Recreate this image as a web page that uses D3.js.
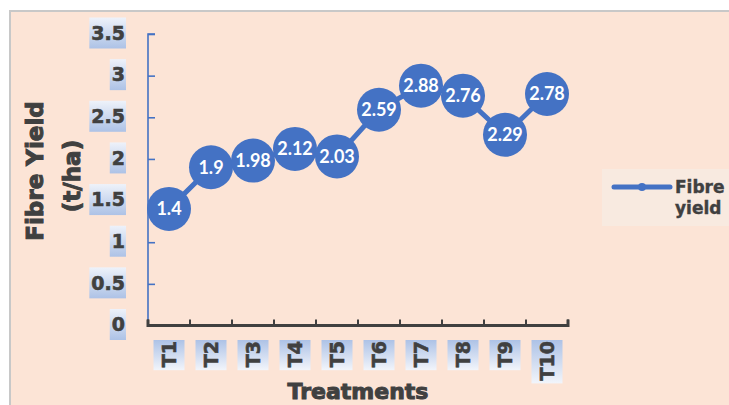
<!DOCTYPE html>
<html>
<head>
<meta charset="utf-8">
<script src="https://cdn.jsdelivr.net/npm/d3@7"></script>
<style>
  html, body { margin: 0; padding: 0; background: #ffffff; }
  svg { display: block; }
</style>
</head>
<body>
<svg id="chart" width="729" height="405"></svg>
<script>
// Fibre yield (t/ha) per treatment
const treatments = ["T1", "T2", "T3", "T4", "T5", "T6", "T7", "T8", "T9", "T10"];
const fibreYield = [1.4, 1.9, 1.98, 2.12, 2.03, 2.59, 2.88, 2.76, 2.29, 2.78];
const yTicks = [0, 0.5, 1, 1.5, 2, 2.5, 3, 3.5];
const seriesName = ["Fibre", "yield"];

const svg = d3.select("#chart");
const W = 729, H = 405;

const blue = "#4472C4";
const dark = "#404040";
const font = "'DejaVu Sans', Verdana, sans-serif";
const labelFont = "Lato, 'Open Sans', sans-serif";

// gradients for tick label boxes
const defs = svg.append("defs");
const gv = defs.append("linearGradient").attr("id", "gv").attr("x1", 0).attr("y1", 0).attr("x2", 0).attr("y2", 1);
gv.append("stop").attr("offset", "0%").attr("stop-color", "#eef2fa");
gv.append("stop").attr("offset", "100%").attr("stop-color", "#adc2e6");
const gh = defs.append("linearGradient").attr("id", "gh").attr("x1", 0).attr("y1", 0).attr("x2", 1).attr("y2", 0);
gh.append("stop").attr("offset", "0%").attr("stop-color", "#f2f5fb");
gh.append("stop").attr("offset", "100%").attr("stop-color", "#adc2e6");

// chart area background with border
svg.append("rect").attr("x", 10).attr("y", 11).attr("width", W).attr("height", H)
  .attr("fill", "#FCE4D6").attr("stroke", "#c8c8c8").attr("stroke-width", 2);

const x = d3.scaleBand().domain(treatments).range([148, 568]);
const y = d3.scaleLinear().domain([0, 3.5]).range([325.5, 34]);

// Y axis (blue line, ticks pointing inward)
const yAxis = svg.append("g").attr("transform", "translate(148,0)")
  .call(d3.axisRight(y).tickValues(yTicks).tickSize(7).tickFormat(""));
yAxis.select(".domain").attr("stroke", blue).attr("stroke-width", 1.6).attr("d", `M7,${y(3.5)}H0V${y(0)}`);
yAxis.selectAll(".tick line").attr("stroke", blue).attr("stroke-width", 1.6);

// Y tick labels with gradient boxes
const yl = svg.append("g").selectAll("g").data(yTicks).enter().append("g")
  .attr("transform", d => `translate(125,${y(d) - 1})`);
yl.each(function(d) {
  const g = d3.select(this);
  const t = g.append("text").text(d).attr("text-anchor", "end").attr("dy", "0.36em")
    .attr("font-family", font).attr("font-weight", 700).attr("font-size", 19)
    .attr("fill", dark).attr("stroke", dark).attr("stroke-width", 0.6);
  const bb = t.node().getBBox();
  g.insert("rect", "text").attr("x", bb.x - 2).attr("y", -15.5).attr("width", bb.width + 3).attr("height", 31)
    .attr("fill", "url(#gv)");
});

// X axis (dark line, ticks pointing up)
const xAxis = svg.append("g").attr("transform", `translate(0,${y(0)})`);
const xTickPos = treatments.map(t => x(t)).concat([568]);
xAxis.append("path").attr("d", `M148,-6V0H568V-6`).attr("fill", "none")
  .attr("stroke", dark).attr("stroke-width", 3);
xAxis.selectAll("line.tk").data(xTickPos).enter().append("line")
  .attr("x1", d => d).attr("x2", d => d).attr("y1", 0).attr("y2", -6)
  .attr("stroke", dark).attr("stroke-width", 2);

// X tick labels (rotated) with gradient boxes
const xl = svg.append("g").selectAll("g").data(treatments).enter().append("g")
  .attr("transform", d => `translate(${x(d) + x.bandwidth() / 2},341) rotate(-90)`);
xl.each(function(d) {
  const g = d3.select(this);
  const t = g.append("text").text(d).attr("text-anchor", "end").attr("dy", "0.36em")
    .attr("font-family", font).attr("font-weight", 700).attr("font-size", 19)
    .attr("fill", dark).attr("stroke", dark).attr("stroke-width", 0.6);
  const bb = t.node().getBBox();
  g.insert("rect", "text").attr("x", bb.x - 3).attr("y", -15.5).attr("width", bb.width + 4).attr("height", 31)
    .attr("fill", "url(#gh)");
});

// axis titles
const title = (sel) => sel.attr("text-anchor", "middle").attr("font-family", font).attr("font-weight", 700)
  .attr("font-size", 23).attr("fill", dark).attr("stroke", dark).attr("stroke-width", 1);
svg.append("text").attr("transform", "translate(43,171) rotate(-90)").call(title).text("Fibre Yield");
svg.append("text").attr("transform", "translate(80,176) rotate(-90)").call(title).text("(t/ha)");
svg.append("text").attr("x", 358).attr("y", 399).call(title).attr("font-size", 22).text("Treatments");

// series line and labelled markers
const cx = d => x(d) + x.bandwidth() / 2;
const pts = treatments.map((t, i) => [cx(t), y(fibreYield[i])]);
svg.append("path").attr("d", d3.line()(pts)).attr("fill", "none")
  .attr("stroke", blue).attr("stroke-width", 5).attr("stroke-linejoin", "round");

const mk = svg.append("g").selectAll("g").data(treatments).enter().append("g")
  .attr("transform", (t, i) => `translate(${cx(t)},${y(fibreYield[i])})`);
mk.append("circle").attr("r", 22).attr("fill", blue);
mk.append("text").text((t, i) => fibreYield[i]).attr("text-anchor", "middle").attr("dy", "0.36em")
  .attr("font-family", labelFont).attr("font-weight", 700).attr("font-size", 18).attr("fill", "#ffffff");

// legend
const lg = svg.append("g");
lg.append("rect").attr("x", 602).attr("y", 169).attr("width", 140).attr("height", 57).attr("fill", "#F8EAE0");
lg.append("line").attr("x1", 614).attr("x2", 670).attr("y1", 187).attr("y2", 187)
  .attr("stroke", blue).attr("stroke-width", 5).attr("stroke-linecap", "round");
lg.append("circle").attr("cx", 642).attr("cy", 187).attr("r", 4).attr("fill", blue);
lg.selectAll("text").data(seriesName).enter().append("text")
  .attr("x", 675).attr("y", (d, i) => 193 + i * 21).text(d => d)
  .attr("font-family", font).attr("font-weight", 700).attr("font-size", 17)
  .attr("fill", dark).attr("stroke", dark).attr("stroke-width", 0.4);
</script>
</body>
</html>
